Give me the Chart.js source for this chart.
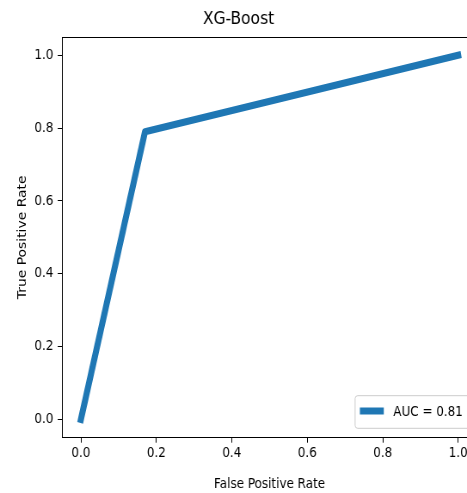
<!DOCTYPE html>
<html><head><meta charset="utf-8">
<script src="https://cdn.jsdelivr.net/npm/chart.js@4.4.0/dist/chart.umd.min.js"></script>
<style>
html,body{margin:0;padding:0;overflow:hidden;background:#fff;width:467px;height:493px;}
#wrap{position:absolute;left:0;top:0;width:627px;height:493px;transform:scaleX(0.86);transform-origin:0 0;}
</style></head><body>
<div id="wrap"><canvas id="c" width="627" height="493"></canvas></div>
<script>
const fpr = [0, 0.17, 1];
const tpr = [0, 0.79, 1];
const xTicks = [0, 0.2, 0.4, 0.6, 0.8, 1.0];
const yTicks = [0, 0.2, 0.4, 0.6, 0.8, 1.0];
const seriesLabel = 'AUC = 0.81';
const chartTitle = 'XG-Boost';
const xTitle = 'False Positive Rate';
const yTitle = 'True Positive Rate';

const FONT = "'DejaVu Sans', 'Liberation Sans', sans-serif";
const BLUE = '#1f77b4';

const framePlugin = {
  id: 'frame',
  afterDraw(chart) {
    const {ctx, chartArea: a} = chart;
    ctx.save();
    ctx.strokeStyle = '#000';
    ctx.lineWidth = 1;
    ctx.beginPath();
    ctx.moveTo(a.left, Math.round(a.top) + 0.5);
    ctx.lineTo(a.right, Math.round(a.top) + 0.5);
    ctx.moveTo(Math.round(a.right) + 0.5, a.top);
    ctx.lineTo(Math.round(a.right) + 0.5, a.bottom);
    ctx.stroke();
    ctx.restore();
  }
};

const legendPlugin = {
  id: 'mplLegend',
  afterDraw(chart) {
    const {ctx, chartArea: a} = chart;
    const ds = chart.data.datasets[0];
    const fs = 13.9;
    ctx.save();
    ctx.font = fs + 'px ' + FONT;
    const tw = ctx.measureText(ds.label).width;
    const pad = 0.4 * fs, handle = 2 * fs, gap = 0.8 * fs;
    const w = pad + handle + gap + tw + pad + 4;
    const h = 32.6;
    const right = a.right - 7;
    const bottom = a.bottom - 9.4;
    const left = right - w, top = bottom - h;
    ctx.beginPath();
    if (ctx.roundRect) ctx.roundRect(left, top, w, h, 3); else ctx.rect(left, top, w, h);
    ctx.fillStyle = 'rgba(255,255,255,0.8)';
    ctx.fill();
    ctx.strokeStyle = '#cccccc';
    ctx.lineWidth = 1;
    ctx.stroke();
    const cy = top + h / 2;
    ctx.beginPath();
    ctx.strokeStyle = ds.borderColor;
    ctx.lineWidth = ds.borderWidth;
    ctx.lineCap = 'butt';
    ctx.moveTo(left + pad, cy - 1);
    ctx.lineTo(left + pad + handle, cy - 1);
    ctx.stroke();
    ctx.fillStyle = '#000';
    ctx.textBaseline = 'middle';
    ctx.textAlign = 'left';
    ctx.fillText(ds.label, left + pad + handle + gap, cy);
    ctx.restore();
  }
};

new Chart(document.getElementById('c'), {
  type: 'line',
  data: {
    datasets: [{
      label: seriesLabel,
      data: fpr.map((x, i) => ({x: x, y: tpr[i]})),
      borderColor: BLUE,
      backgroundColor: BLUE,
      borderWidth: 7,
      borderCapStyle: 'square',
      borderJoinStyle: 'round',
      pointRadius: 0,
      tension: 0,
      fill: false
    }]
  },
  options: {
    responsive: false,
    animation: false,
    layout: {padding: {left: 0, right: 72.3, top: 0, bottom: 0}},
    plugins: {
      legend: {display: false},
      tooltip: {enabled: false},
      title: {
        display: true,
        text: chartTitle,
        color: '#000',
        font: {family: FONT, size: 18, weight: 'normal'},
        padding: {top: 8.2, bottom: 7.2}
      }
    },
    scales: {
      x: {
        type: 'linear',
        min: -0.05, max: 1.05,
        afterBuildTicks: s => { s.ticks = xTicks.map(v => ({value: v})); },
        afterFit: s => { s.height = 55.3; },
        ticks: {
          autoSkip: false, maxRotation: 0, padding: 2,
          color: '#000',
          font: {family: FONT, size: 13.9},
          callback: v => Number(v).toFixed(1)
        },
        grid: {display: true, drawOnChartArea: false, drawTicks: true, tickLength: 5, tickColor: '#000'},
        border: {display: true, color: '#000', width: 1},
        title: {display: true, text: xTitle, color: '#000', font: {family: FONT, size: 13.9}, padding: {top: 0, bottom: 0}}
      },
      y: {
        type: 'linear',
        min: -0.05, max: 1.05,
        afterBuildTicks: s => { s.ticks = yTicks.map(v => ({value: v})); },
        afterFit: s => { s.width = 72.1; },
        ticks: {
          autoSkip: false, padding: 5,
          color: '#000',
          font: {family: FONT, size: 13.9},
          callback: v => Number(v).toFixed(1)
        },
        grid: {display: true, drawOnChartArea: false, drawTicks: true, tickLength: 5, tickColor: '#000'},
        border: {display: true, color: '#000', width: 1},
        title: {display: true, text: yTitle, color: '#000', font: {family: FONT, size: 13.9}, padding: {top: 17.8, bottom: 0}}
      }
    }
  },
  plugins: [framePlugin, legendPlugin]
});
</script>
</body></html>
